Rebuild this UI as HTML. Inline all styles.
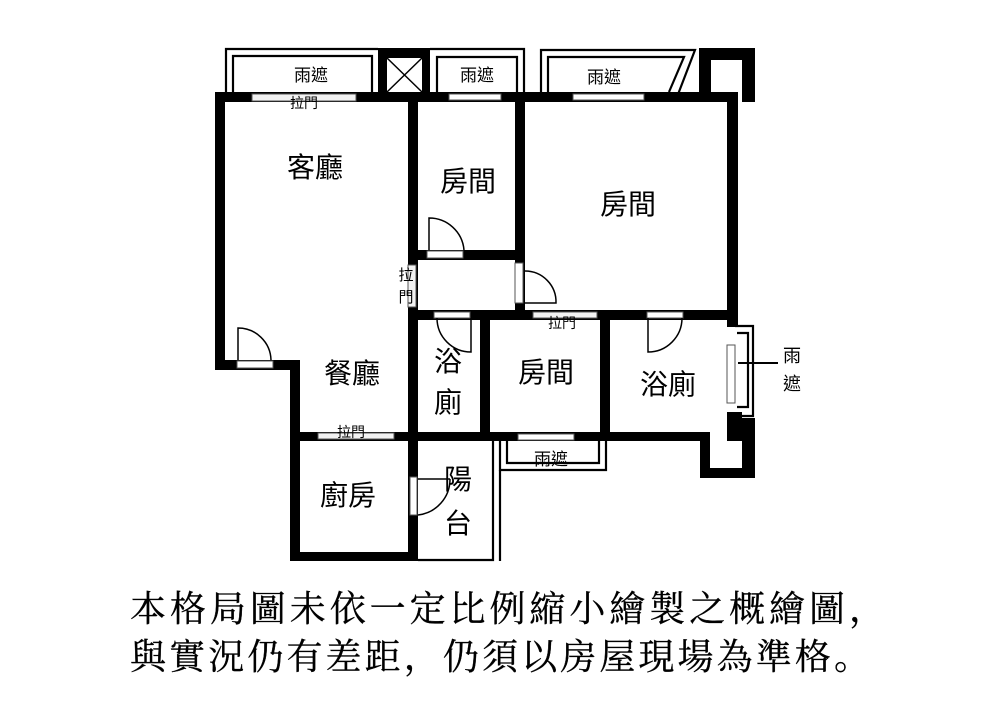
<!DOCTYPE html>
<html><head><meta charset="utf-8"><style>
html,body{margin:0;padding:0;background:#fff;width:1000px;height:726px;overflow:hidden}
svg{display:block}
.s{font-family:"Liberation Sans","Noto Sans CJK TC",sans-serif;fill:#000}
.k{font-family:"Liberation Serif","Noto Serif CJK SC",serif;fill:#000;stroke:#000;stroke-width:0.3}
</style></head><body>
<svg width="1000" height="726" viewBox="0 0 1000 726" xmlns="http://www.w3.org/2000/svg">
<g fill="#000">
<rect x="215" y="92" width="523" height="10"/>
<rect x="215" y="92" width="10" height="278"/>
<rect x="215" y="360" width="85" height="10"/>
<rect x="290" y="360" width="10" height="201"/>
<rect x="290" y="552" width="128" height="9"/>
<rect x="408" y="92" width="10" height="469"/>
<rect x="515" y="92" width="10" height="228"/>
<rect x="408" y="250" width="117" height="10"/>
<rect x="408" y="310" width="330" height="10"/>
<rect x="480" y="310" width="10" height="131"/>
<rect x="600" y="310" width="10" height="131"/>
<rect x="290" y="432" width="420" height="9"/>
<rect x="727" y="92" width="11" height="235"/>
<rect x="727" y="412" width="15" height="29"/>
<rect x="700" y="432" width="10" height="46"/>
<rect x="700" y="468" width="55" height="10"/>
<rect x="742" y="418" width="13" height="60"/>
<rect x="699" y="48" width="56" height="12"/>
<rect x="699" y="48" width="12" height="54"/>
<rect x="742" y="48" width="13" height="54"/>
<rect x="378" y="48" width="52" height="54"/>
</g>
<rect x="387" y="58" width="35" height="34" fill="#fff"/>
<path d="M387 58L422 92M422 58L387 92" stroke="#000" stroke-width="1.5"/>
<g fill="none" stroke="#000" stroke-width="2.2">
<path d="M226 92V49H378"/><path d="M233 92V56H372V92"/>
<path d="M430 49H524V92"/><path d="M437 92V57H517V92"/>
<path d="M541 93V50H695L677 97"/><path d="M548 92V57H684L669 92"/>
<path d="M500 441V470H606V441"/><path d="M507 441V463H599V441"/>
<path d="M493 441V560H418"/><path d="M500 470V561"/>
<path d="M735 326H753V416H735"/><path d="M737 333H748V407H737"/>
</g>
<line x1="738" y1="363" x2="778" y2="363" stroke="#000" stroke-width="2"/>
<g fill="#fff" stroke="#555" stroke-width="1">
<rect x="252" y="94" width="104" height="7" fill="#f2f2f2"/>
<rect x="449" y="94" width="52" height="6"/>
<rect x="573" y="94" width="71" height="6"/>
<rect x="427" y="251" width="36" height="7"/>
<rect x="515" y="263" width="8" height="40"/>
<rect x="434" y="312" width="36" height="6"/>
<rect x="533" y="312" width="64" height="6" fill="#f2f2f2"/>
<rect x="647" y="312" width="36" height="6"/>
<rect x="237" y="361" width="36" height="7"/>
<rect x="318" y="433" width="76" height="6" fill="#f2f2f2"/>
<rect x="518" y="434" width="56" height="6"/>
<rect x="410" y="477" width="7" height="38"/>
<rect x="727" y="345" width="8" height="58"/>
<rect x="408" y="265" width="8" height="42" fill="#f2f2f2"/>
</g>
<g fill="none" stroke="#000" stroke-width="1.5">
<path d="M429 250V218A35 35 0 0 1 464 250"/>
<path d="M525 271A31 31 0 0 1 556 303H525"/>
<path d="M437 318A34 34 0 0 0 471 352V318"/>
<path d="M648 318V352A34 34 0 0 0 682 318"/>
<path d="M238 360V328A33 33 0 0 1 271 360"/>
<path d="M418 479H450M418 515A36 36 0 0 0 450 479"/>
</g>
<g class="s">
<text x="311" y="81" font-size="17" text-anchor="middle">雨遮</text>
<text x="477" y="81" font-size="17" text-anchor="middle">雨遮</text>
<text x="604" y="83" font-size="17" text-anchor="middle">雨遮</text>
<text x="304" y="108" font-size="14" text-anchor="middle">拉門</text>
<text x="315" y="177" font-size="28" text-anchor="middle">客廳</text>
<text x="468" y="191" font-size="28" text-anchor="middle">房間</text>
<text x="628" y="214" font-size="28" text-anchor="middle">房間</text>
<text x="406" y="280" font-size="15" text-anchor="middle">拉</text>
<text x="406" y="302" font-size="15" text-anchor="middle">門</text>
<text x="562" y="328" font-size="14" text-anchor="middle">拉門</text>
<text x="352" y="383" font-size="28" text-anchor="middle">餐廳</text>
<text x="448" y="371" font-size="28" text-anchor="middle">浴</text>
<text x="448" y="412" font-size="28" text-anchor="middle">廁</text>
<text x="546" y="382" font-size="28" text-anchor="middle">房間</text>
<text x="668" y="394" font-size="28" text-anchor="middle">浴廁</text>
<text x="351" y="437" font-size="14" text-anchor="middle">拉門</text>
<text x="551" y="465" font-size="17" text-anchor="middle">雨遮</text>
<text x="348" y="505" font-size="28" text-anchor="middle">廚房</text>
<text x="458" y="489" font-size="28" text-anchor="middle">陽</text>
<text x="458" y="533" font-size="28" text-anchor="middle">台</text>
<text x="792" y="362" font-size="18" text-anchor="middle">雨</text>
<text x="792" y="390" font-size="18" text-anchor="middle">遮</text>
</g>
<text class="k" x="130" y="621" font-size="36" textLength="755" lengthAdjust="spacing">本格局圖未依一定比例縮小繪製之概繪圖，</text>
<text class="k" x="130" y="669" font-size="36" textLength="740" lengthAdjust="spacing">與實況仍有差距，仍須以房屋現場為準格。</text>
</svg>
</body></html>
